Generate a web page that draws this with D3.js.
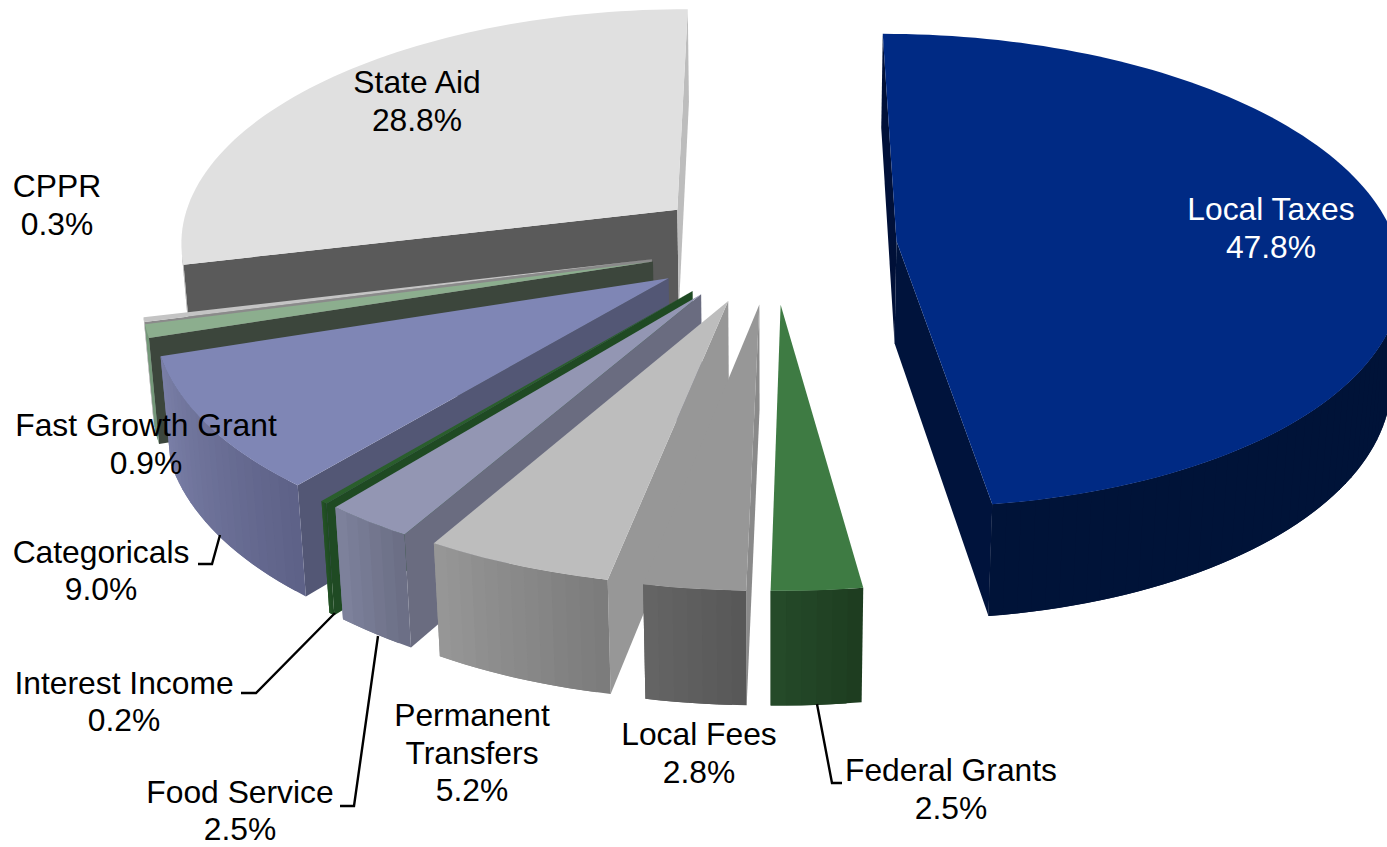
<!DOCTYPE html>
<html><head><meta charset="utf-8">
<script src="https://cdn.jsdelivr.net/npm/d3@7"></script>
<style>html,body{margin:0;background:#fff}svg{display:block}text{font-family:"Liberation Sans",Arial,sans-serif;font-size:31.8px}</style>
</head><body><svg id="c" width="1387" height="847"></svg>
<script>
const categories=["Local Taxes","Federal Grants","Local Fees","Permanent Transfers","Food Service","Interest Income","Categoricals","Fast Growth Grant","CPPR","State Aid"];
const values=[47.8,2.5,2.8,5.2,2.5,0.2,9.0,0.9,0.3,28.8];
const colorTop=["#002a84","#3e7b43","#979797","#bdbdbd","#9396b3","#2a5e2c","#7f86b5","#8cae8e","#c4c4c4","#e0e0e0"];
const colorStartCut=["#001038","#1f3f22","#8a8a8a","#979797","#6a6c80","#1f4a23","#535775","#3c463c","#8a8a8a","#5a5a5a"];
const colorEndCut=["#00133c","#1f3f22","#8a8a8a","#979797","#6a6c80","#1f4a23","#535775","#3c463c","#8a8a8a","#bdbdbd"];
const colorArcA=["#001338","#1e3d20","#585858","#7c7c7c","#6c6f86","#1f4a23","#5e6288","#75997a","#aaaaaa","#aaaaaa"];
const colorArcB=["#001338","#264c2b","#666666","#989898","#80849f","#255526","#7b80a8","#75997a","#aaaaaa","#aaaaaa"];
const labelLines=[["Local Taxes","47.8%"],["Federal Grants","2.5%"],["Local Fees","2.8%"],["Permanent","Transfers","5.2%"],["Food Service","2.5%"],["Interest Income","0.2%"],["Categoricals","9.0%"],["Fast Growth Grant","0.9%"],["CPPR","0.3%"],["State Aid","28.8%"]];
const labelX=[1271,951,699,472,240,124,101,146,57,417];
const labelY=[220,781,745,726,802.5,693.5,562.5,436,197,93];
const leaders={1:[[817,704],[832,783],[842,783]],4:[[340,806],[354,806],[378,636]],5:[[241,693],[256,693],[335,613]],6:[[198,564],[212,564],[220,535]]};

const W=1387,H=847,Cx=773,Cy=245,R=500,E=124,TILT=0.468,DEPTH=104,P=0.125,Q=0.00015,START=0;
const svg=d3.select("#c");
const pie=d3.pie().sort(null).startAngle(START).endAngle(START+2*Math.PI);
const arcs=pie(values);
function proj(X,Y,Z){const k=1/(1-P*Y/R+Q*Z);return [Cx+X*k,Cy+TILT*Y*k+Z*k];}
const line=d3.line();
const paintOrder=[0,9,8,7,6,5,4,3,2,1];
paintOrder.forEach(i=>{
  const a=arcs[i],mid=(a.startAngle+a.endAngle)/2;
  const ox=E*Math.sin(mid),oy=-E*Math.cos(mid);
  const g=svg.append("g");
  const n=Math.max(4,Math.ceil((a.endAngle-a.startAngle)/(1.5*Math.PI/180)));
  const th=d3.range(n+1).map(j=>a.startAngle+(a.endAngle-a.startAngle)*j/n);
  const pt=(t,z)=>proj(ox+R*Math.sin(t),oy-R*Math.cos(t),z);
  const apex=z=>proj(ox,oy,z);
  const draw=(p,c)=>g.append("path").attr("d",line(p)+"Z").attr("fill",c);
  const faces=(a0,b0,a1,b1)=>[a0,b0,b1,a1];
  const cut=(q,c)=>{if(d3.polygonArea(q)>0)draw(q,c);};
  cut(faces(apex(0),pt(th[0],0),apex(DEPTH),pt(th[0],DEPTH)),colorStartCut[i]);
  cut(faces(pt(th[n],0),apex(0),pt(th[n],DEPTH),apex(DEPTH)),colorEndCut[i]);
  const shade=d3.scaleLinear().domain([0,n]).range([colorArcA[i],colorArcB[i]]).interpolate(d3.interpolateRgb);
  const vis=d3.range(n).map(j=>d3.polygonArea(faces(pt(th[j],0),pt(th[j+1],0),pt(th[j],DEPTH),pt(th[j+1],DEPTH)))>0);
  for(let j=0;j<n;j++){
    if(!vis[j])continue;
    const e=(j+1<n&&vis[j+1])?j+2:j+1; // facet runs under its neighbour, so no seam shows
    draw(faces(pt(th[j],0),pt(th[e],0),pt(th[j],DEPTH),pt(th[e],DEPTH)),shade(j));
  }
  draw([apex(0),...th.map(t=>pt(t,0))],colorTop[i]);
});
Object.entries(leaders).forEach(([k,p])=>svg.append("path").attr("d",line(p)).attr("fill","none").attr("stroke","#000").attr("stroke-width",2.4));
categories.forEach((c,i)=>{
  const t=svg.append("text").attr("text-anchor","middle").attr("fill",i===0?"#fff":"#000");
  labelLines[i].forEach((s,j)=>t.append("tspan").attr("x",labelX[i]).attr("y",labelY[i]+j*37.5).text(s));
});
</script></body></html>
